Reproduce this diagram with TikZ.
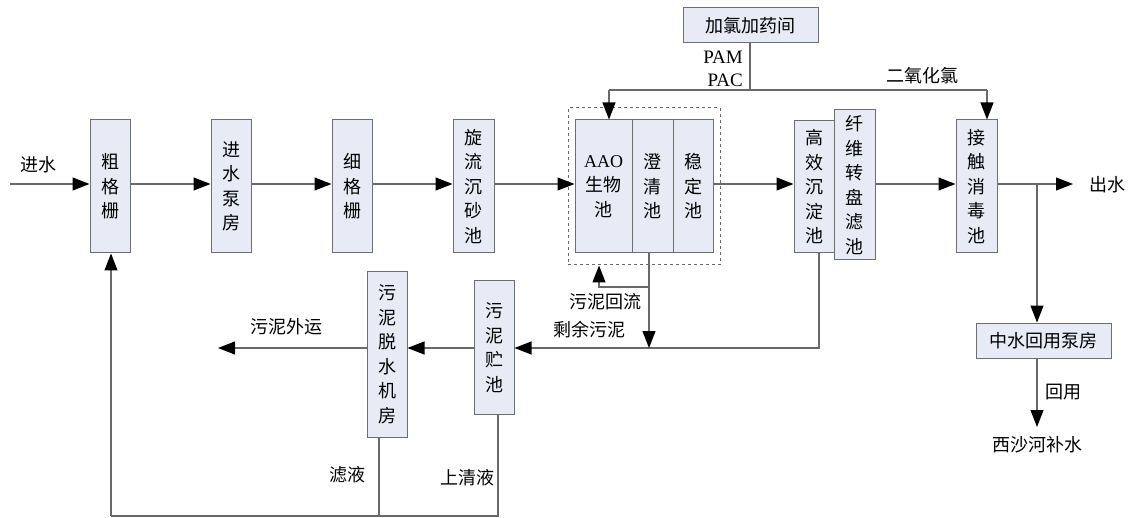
\documentclass[tikz,border=0pt]{standalone}
\usepackage{fontspec}
\setmainfont{Liberation Serif}
\newfontfamily\cjk{Noto Sans CJK SC}
\usetikzlibrary{arrows.meta}
\definecolor{boxfill}{RGB}{230,235,246}
\definecolor{boxline}{RGB}{110,110,110}
\definecolor{pipecol}{RGB}{105,105,105}

\tikzset{
  unit/.style={draw=boxline, fill=boxfill, line width=1pt, minimum width=40pt,
    minimum height=133pt, inner sep=0pt, align=center,
    font=\cjk\fontsize{18}{24.5}\selectfont},
  wide/.style={unit, minimum width=135pt, minimum height=35pt},
  pipe/.style={draw=pipecol, line width=1.1pt},
  flow/.style={pipe, -{Triangle[length=17pt,width=13pt,color=black]}},
  lbl/.style={font=\cjk\fontsize{18}{22}\selectfont, inner sep=0pt},
  latin/.style={font=\fontsize{19}{20}\selectfont, inner sep=0pt},
}

\begin{document}
\begin{tikzpicture}[x=1pt,y=-1pt]
\useasboundingbox (0,0) rectangle (1131,518);

% dashed enclosure of the biological treatment block
\node[draw=pipecol, dashed, line width=1pt, minimum width=152pt, minimum height=157pt,
      inner sep=0pt] (grp) at (644,186.5) {};

% treatment units
\node[unit] (cu) at (110,186.5) {粗\\格\\栅};
\node[unit] (jb) at (231,186.5) {进\\水\\泵\\房};
\node[unit] (xg) at (352,186.5) {细\\格\\栅};
\node[unit, minimum width=41pt] (xl) at (473.5,186.5) {旋\\流\\沉\\砂\\池};
\node[unit, minimum width=57pt] (aao) at (603.5,186.5) {{\rmfamily AAO}\\生物\\池};
\node[unit, minimum width=41pt] (cq) at (652.5,186.5) {澄\\清\\池};
\node[unit] (wd) at (693,186.5) {稳\\定\\池};
\node[unit, minimum height=132pt] (gx) at (814,187) {高\\效\\沉\\淀\\池};
\node[unit, minimum width=41pt, minimum height=150pt] (xw) at (854.5,185) {纤\\维\\转\\盘\\滤\\池};
\node[unit, minimum width=41pt] (jc) at (976.5,186.5) {接\\触\\消\\毒\\池};
\node[wide] (jl) at (750.5,25.5) {加氯加药间};
\node[wide] (zs) at (1043.5,340.5) {中水回用泵房};
\node[unit, minimum height=165pt] (ts) at (387,354.5) {污\\泥\\脱\\水\\机\\房};
\node[unit] (zc) at (494,347.5) {污\\泥\\贮\\池};

% main water line
\coordinate (ml) at (0,184);
\coordinate (in) at (10,184);
\coordinate (out) at (1073,184);
\draw[flow] (in) -- (cu.west |- ml);
\draw[flow] (cu.east |- ml) -- (jb.west |- ml);
\draw[flow] (jb.east |- ml) -- (xg.west |- ml);
\draw[flow] (xg.east |- ml) -- (xl.west |- ml);
\draw[flow] (xl.east |- ml) -- (aao.west |- ml);
\draw[flow] (wd.east |- ml) -- (gx.west |- ml);
\draw[flow] (xw.east |- ml) -- (jc.west |- ml);
\draw[flow] (jc.east |- ml) -- (out);
\node[lbl] (inl) at (38,165) {进水};
\node[lbl, anchor=west] (outl) at (1089,185) {出水};

% reuse branch
\coordinate (br) at (1037,184);
\coordinate (rv) at (1037,427);
\draw[flow] (br) -- (br |- zs.north);
\draw[flow] (br |- zs.south) -- (rv);
\node[lbl, anchor=west] (hy) at (1045,392) {回用};
\node[lbl] (xs) at (1037,445) {西沙河补水};

% chemical dosing
\coordinate (dz) at (750,90);
\coordinate (dl) at (609,90);
\coordinate (dr) at (987,90);
\draw[pipe] (dz |- jl.south) -- (dz);
\draw[pipe] (dl) -- (dr);
\draw[flow] (dl) -- (dl |- aao.north);
\draw[flow] (dr) -- (dr |- jc.north);
\node[latin, anchor=east] (pam) at (743,57) {PAM};
\node[latin, anchor=east] (pac) at (743,80) {PAC};
\node[lbl] (clo) at (922,76) {二氧化氯};

% sludge lines
\coordinate (sl) at (0,348);
\coordinate (gxo) at (819,348);
\draw[flow] (gxo |- gx.south) -- (gxo) -- (zc.east |- sl);
\coordinate (sx) at (649,348);
\coordinate (rj) at (649,287);
\coordinate (rr) at (599,287);
\draw[flow] (sx |- cq.south) -- (sx);
\draw[flow] (rj) -- (rr) -- (rr |- grp.south);
\node[lbl] (hl) at (605,302) {污泥回流};
\node[lbl] (sy) at (589,330) {剩余污泥};
\draw[flow] (zc.west |- sl) -- (ts.east |- sl);
\coordinate (sw) at (218,348);
\draw[flow] (ts.west |- sl) -- (sw);
\node[lbl] (wy) at (286,327) {污泥外运};

% return of filtrate and supernatant
\coordinate (b0) at (111,516);
\coordinate (b1) at (379,516);
\coordinate (b2) at (498,516);
\draw[pipe] (b1 |- ts.south) -- (b1);
\draw[pipe] (b2 |- zc.south) -- (b2) -- (b0);
\draw[flow] (b0) -- (b0 |- cu.south);
\node[lbl] (ly) at (347,475) {滤液};
\node[lbl] (sq) at (467,478) {上清液};
\end{tikzpicture}
\end{document}
